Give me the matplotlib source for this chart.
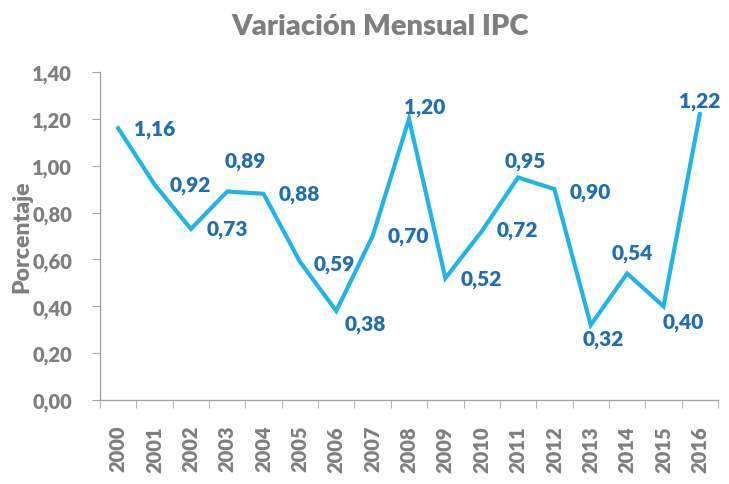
import numpy as np
import matplotlib
matplotlib.use("Agg")
import matplotlib.pyplot as plt

# datos
years = ["2000", "2001", "2002", "2003", "2004", "2005", "2006", "2007", "2008",
         "2009", "2010", "2011", "2012", "2013", "2014", "2015", "2016"]
values = [1.16, 0.92, 0.73, 0.89, 0.88, 0.59, 0.38, 0.70, 1.20,
          0.52, 0.72, 0.95, 0.90, 0.32, 0.54, 0.40, 1.22]
y_ticks = [0.0, 0.2, 0.4, 0.6, 0.8, 1.0, 1.2, 1.4]

# desplazamiento de las etiquetas (puntos)
label_offsets = [(26, 0), (26, 0), (26, 0), (13, 22), (26, 0), (25, -1), (21, -9),
                 (26, 0), (11, 9), (26, 0), (26, 1), (5, 12), (26, -2), (9, -10),
                 (4, 15), (14, -11), (0, 10)]

gray = "#7f7f7f"
line_blue = "#1fb4ea"
label_blue = "#1f6fb5"
plt.rcParams['font.family'] = ['Lato', 'DejaVu Sans']

fig = plt.figure(figsize=(7.29, 4.85), dpi=100)
ax = fig.add_axes([100 / 729, 1 - 401 / 485, 618 / 729, 328 / 485])

x = np.arange(len(years))
ax.plot(x, values, color=line_blue, lw=3, solid_joinstyle='miter')

for xi, v, (dx, dy) in zip(x, values, label_offsets):
    ax.annotate(f"{v:.2f}".replace(".", ","), (xi, v), xytext=(dx, dy),
                textcoords="offset points", ha="center", va="center",
                fontsize=15, fontweight="heavy", color=label_blue)

ax.set_xlim(-0.5, len(years) - 0.5)
ax.set_ylim(0, 1.4)
ax.set_yticks(y_ticks)
ax.set_yticklabels([f"{t:.2f}".replace(".", ",") for t in y_ticks],
                   fontsize=14.5, fontweight="heavy", color=gray)
ax.set_xticks(x)
ax.set_xticklabels(years, rotation=90, fontsize=14.5, fontweight="heavy", color=gray)
ax.set_xticks(np.arange(len(years) + 1) - 0.5, minor=True)
ax.tick_params(axis="x", which="major", length=0, pad=18)
ax.tick_params(axis="x", which="minor", length=6, color="#a6a6a6")
ax.tick_params(axis="y", length=6, color="#a6a6a6", pad=14)

for s in ["top", "right"]:
    ax.spines[s].set_visible(False)
for s in ["left", "bottom"]:
    ax.spines[s].set_color("#a6a6a6")
    ax.spines[s].set_linewidth(1)

ax.set_ylabel("Porcentaje", fontsize=16.5, fontweight="heavy", color=gray)
ax.yaxis.set_label_coords(-0.11, 0.5)
fig.text(380 / 729, 1 - 27 / 485, "Variación Mensual IPC", ha="center", va="center",
         fontsize=21, fontweight="heavy", color=gray)

fig.savefig("out.png", dpi=100)
